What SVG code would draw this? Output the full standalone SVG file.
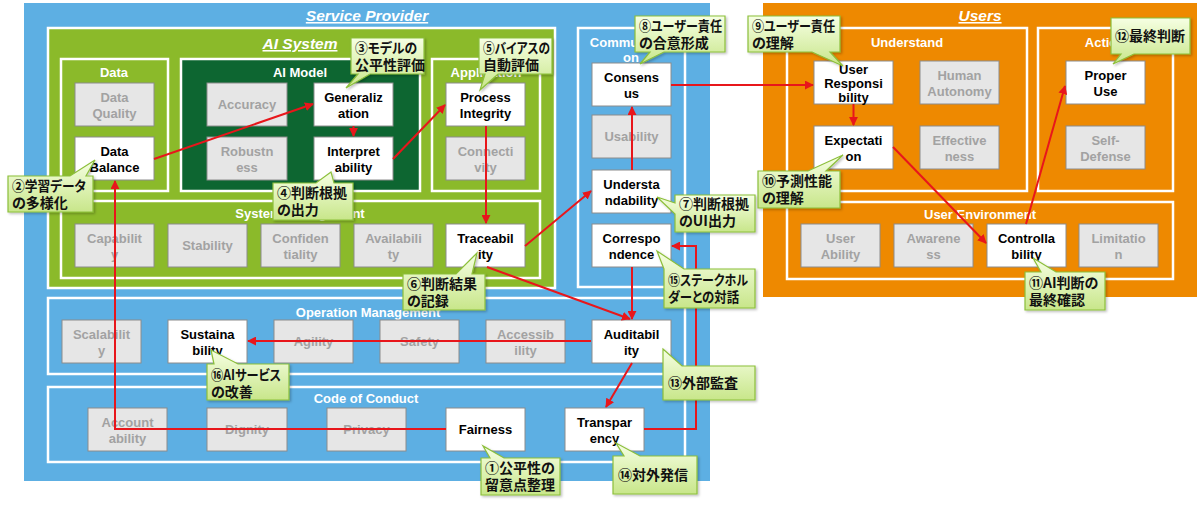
<svg xmlns="http://www.w3.org/2000/svg" width="1200" height="508" viewBox="0 0 1200 508">
<defs>
<style>
.gt{font-family:"Liberation Sans",Arial,sans-serif;font-weight:bold;font-size:13px;fill:#fff;text-anchor:middle}
.title{font-size:15.5px;font-style:italic;text-decoration:underline}
.grp{fill:none;stroke:#fff;stroke-width:2.5}
.node rect{stroke:#8C8C8C;stroke-width:1}
.node text{font-family:"Liberation Sans",Arial,sans-serif;font-weight:bold;font-size:13px;text-anchor:middle}
.ng rect{fill:#E6E6E6}
.ng text{fill:#A2A2A2}
.nw rect{fill:#fff}
.nw text{fill:#000}
.conn{fill:none;stroke:#E8161B;stroke-width:2;marker-end:url(#ah)}
.co path{fill:url(#cg);stroke:#8CBF3A;stroke-width:1.2;filter:url(#sh)}
.co text{font-family:"Noto Sans CJK JP",sans-serif;font-weight:bold;font-size:14px;fill:#111;font-feature-settings:"palt"}
</style>
<linearGradient id="cg" x1="0" y1="0" x2="0" y2="1">
<stop offset="0" stop-color="#F6FFE3"/>
<stop offset="1" stop-color="#C8E68A"/>
</linearGradient>
<marker id="ah" viewBox="0 0 10 10" refX="9" refY="5" markerWidth="9" markerHeight="9" markerUnits="userSpaceOnUse" orient="auto">
<path d="M0,0 L10,5 L0,10 z" fill="#E8161B"/>
</marker>
<filter id="sh" x="-10%" y="-10%" width="130%" height="130%">
<feDropShadow dx="1.5" dy="1.5" stdDeviation="1" flood-color="#000" flood-opacity="0.25"/>
</filter>
</defs>
<rect width="1200" height="508" fill="#fff"/>

<g id="containers">
<rect x="24" y="3" width="686" height="478" fill="#5DAFE3"/>
<rect x="48" y="28" width="507" height="260" fill="#8BBA2A" stroke="#fff" stroke-width="2.5"/>
<rect x="61" y="59" width="107" height="132" class="grp"/>
<rect x="181" y="59" width="239" height="132" fill="#0D6631" stroke="#fff" stroke-width="2.5"/>
<rect x="432" y="59" width="108" height="132" class="grp"/>
<rect x="61" y="201" width="479" height="77" class="grp"/>
<rect x="578" y="28" width="107" height="259" class="grp"/>
<rect x="48" y="298" width="637" height="76" class="grp"/>
<rect x="48" y="387" width="637" height="75" class="grp"/>
<rect x="763" y="3" width="434" height="294" fill="#EE8900"/>
<rect x="787" y="28" width="240" height="163" class="grp"/>
<rect x="1038" y="28" width="135" height="163" class="grp"/>
<rect x="787" y="202" width="386" height="77" class="grp"/>
</g>

<g id="labels">
<text class="gt title" x="367" y="21">Service Provider</text>
<text class="gt title" x="300" y="49">AI System</text>
<text class="gt title" x="980" y="21">Users</text>
<text class="gt" x="114" y="77">Data</text>
<text class="gt" x="300" y="77">AI Model</text>
<text class="gt" x="486" y="77">Application</text>
<text class="gt" x="300" y="218">System Management</text>
<text class="gt" x="631" y="47">Communicati</text>
<text class="gt" x="631" y="62">on</text>
<text class="gt" x="368" y="317">Operation Management</text>
<text class="gt" x="366" y="403">Code of Conduct</text>
<text class="gt" x="907" y="47">Understand</text>
<text class="gt" x="1105" y="47">Action</text>
<text class="gt" x="980" y="219">User Environment</text>
</g>

<g id="n-data-quality" class="node ng"><rect x="75" y="83" width="79" height="43"/><text x="114.5" y="102">Data<tspan x="114.5" dy="16">Quality</tspan></text></g>
<g id="n-data-balance" class="node nw"><rect x="75" y="137" width="79" height="43"/><text x="114.5" y="156">Data<tspan x="114.5" dy="16">Balance</tspan></text></g>
<g id="n-accuracy" class="node ng"><rect x="207" y="83" width="80" height="43"/><text x="247" y="109">Accuracy</text></g>
<g id="n-robustness" class="node ng"><rect x="207" y="137" width="80" height="43"/><text x="247" y="156">Robustn<tspan x="247" dy="16">ess</tspan></text></g>
<g id="n-generalization" class="node nw"><rect x="314" y="83" width="79" height="43"/><text x="353.5" y="102">Generaliz<tspan x="353.5" dy="16">ation</tspan></text></g>
<g id="n-interpretability" class="node nw"><rect x="314" y="137" width="79" height="43"/><text x="353.5" y="156">Interpret<tspan x="353.5" dy="16">ability</tspan></text></g>
<g id="n-process-integrity" class="node nw"><rect x="446" y="83" width="79" height="43"/><text x="485.5" y="102">Process<tspan x="485.5" dy="16">Integrity</tspan></text></g>
<g id="n-connectivity" class="node ng"><rect x="446" y="137" width="79" height="43"/><text x="485.5" y="156">Connecti<tspan x="485.5" dy="16">vity</tspan></text></g>
<g id="n-capability" class="node ng"><rect x="75" y="224" width="79" height="43"/><text x="114.5" y="243">Capabilit<tspan x="114.5" dy="16">y</tspan></text></g>
<g id="n-stability" class="node ng"><rect x="168" y="224" width="79" height="43"/><text x="207.5" y="250">Stability</text></g>
<g id="n-confidentiality" class="node ng"><rect x="261" y="224" width="79" height="43"/><text x="300.5" y="243">Confiden<tspan x="300.5" dy="16">tiality</tspan></text></g>
<g id="n-availability" class="node ng"><rect x="354" y="224" width="79" height="43"/><text x="393.5" y="243">Availabili<tspan x="393.5" dy="16">ty</tspan></text></g>
<g id="n-traceability" class="node nw"><rect x="446" y="224" width="79" height="43"/><text x="485.5" y="243">Traceabil<tspan x="485.5" dy="16">ity</tspan></text></g>
<g id="n-consensus" class="node nw"><rect x="592" y="63" width="79" height="43"/><text x="631.5" y="82">Consens<tspan x="631.5" dy="16">us</tspan></text></g>
<g id="n-usability" class="node ng"><rect x="592" y="115" width="79" height="43"/><text x="631.5" y="141">Usability</text></g>
<g id="n-understandability" class="node nw"><rect x="592" y="170" width="79" height="43"/><text x="631.5" y="189">Understa<tspan x="631.5" dy="16">ndability</tspan></text></g>
<g id="n-correspondence" class="node nw"><rect x="592" y="224" width="79" height="43"/><text x="631.5" y="243">Correspo<tspan x="631.5" dy="16">ndence</tspan></text></g>
<g id="n-scalability" class="node ng"><rect x="62" y="320" width="79" height="43"/><text x="101.5" y="339">Scalabilit<tspan x="101.5" dy="16">y</tspan></text></g>
<g id="n-sustainability" class="node nw"><rect x="168" y="320" width="79" height="43"/><text x="207.5" y="339">Sustaina<tspan x="207.5" dy="16">bility</tspan></text></g>
<g id="n-agility" class="node ng"><rect x="274" y="320" width="79" height="43"/><text x="313.5" y="346">Agility</text></g>
<g id="n-safety" class="node ng"><rect x="380" y="320" width="79" height="43"/><text x="419.5" y="346">Safety</text></g>
<g id="n-accessibility" class="node ng"><rect x="486" y="320" width="79" height="43"/><text x="525.5" y="339">Accessib<tspan x="525.5" dy="16">ility</tspan></text></g>
<g id="n-auditability" class="node nw"><rect x="592" y="320" width="79" height="43"/><text x="631.5" y="339">Auditabil<tspan x="631.5" dy="16">ity</tspan></text></g>
<g id="n-accountability" class="node ng"><rect x="88" y="408" width="79" height="43"/><text x="127.5" y="427">Account<tspan x="127.5" dy="16">ability</tspan></text></g>
<g id="n-dignity" class="node ng"><rect x="207" y="408" width="80" height="43"/><text x="247" y="434">Dignity</text></g>
<g id="n-privacy" class="node ng"><rect x="327" y="408" width="79" height="43"/><text x="366.5" y="434">Privacy</text></g>
<g id="n-fairness" class="node nw"><rect x="446" y="408" width="79" height="43"/><text x="485.5" y="434">Fairness</text></g>
<g id="n-transparency" class="node nw"><rect x="565" y="408" width="79" height="43"/><text x="604.5" y="427">Transpar<tspan x="604.5" dy="16">ency</tspan></text></g>
<g id="n-user-responsibility" class="node nw"><rect x="814" y="61" width="79" height="43"/><text x="853.5" y="74">User<tspan x="853.5" dy="14">Responsi</tspan><tspan x="853.5" dy="14">bility</tspan></text></g>
<g id="n-human-autonomy" class="node ng"><rect x="920" y="61" width="79" height="43"/><text x="959.5" y="80">Human<tspan x="959.5" dy="16">Autonomy</tspan></text></g>
<g id="n-expectation" class="node nw"><rect x="814" y="126" width="79" height="43"/><text x="853.5" y="145">Expectati<tspan x="853.5" dy="16">on</tspan></text></g>
<g id="n-effectiveness" class="node ng"><rect x="920" y="126" width="79" height="43"/><text x="959.5" y="145">Effective<tspan x="959.5" dy="16">ness</tspan></text></g>
<g id="n-proper-use" class="node nw"><rect x="1066" y="61" width="79" height="43"/><text x="1105.5" y="80">Proper<tspan x="1105.5" dy="16">Use</tspan></text></g>
<g id="n-self-defense" class="node ng"><rect x="1066" y="126" width="79" height="43"/><text x="1105.5" y="145">Self-<tspan x="1105.5" dy="16">Defense</tspan></text></g>
<g id="n-user-ability" class="node ng"><rect x="801" y="224" width="79" height="43"/><text x="840.5" y="243">User<tspan x="840.5" dy="16">Ability</tspan></text></g>
<g id="n-awareness" class="node ng"><rect x="894" y="224" width="79" height="43"/><text x="933.5" y="243">Awarene<tspan x="933.5" dy="16">ss</tspan></text></g>
<g id="n-controllability" class="node nw"><rect x="987" y="224" width="79" height="43"/><text x="1026.5" y="243">Controlla<tspan x="1026.5" dy="16">bility</tspan></text></g>
<g id="n-limitation" class="node ng"><rect x="1079" y="224" width="79" height="43"/><text x="1118.5" y="243">Limitatio<tspan x="1118.5" dy="16">n</tspan></text></g>

<g id="connectors">
<polyline class="conn" points="446,429 115,429 115,181"/>
<line class="conn" x1="154" y1="159" x2="313" y2="104"/>
<line class="conn" x1="353.5" y1="126" x2="353.5" y2="136"/>
<line class="conn" x1="393" y1="159" x2="445" y2="105"/>
<line class="conn" x1="486" y1="126" x2="486" y2="223"/>
<line class="conn" x1="525" y1="246" x2="591" y2="191"/>
<line class="conn" x1="487" y1="267" x2="630" y2="319"/>
<line class="conn" x1="632" y1="267" x2="632" y2="319"/>
<line class="conn" x1="632" y1="170" x2="632" y2="107"/>
<line class="conn" x1="671" y1="85" x2="813" y2="85"/>
<line class="conn" x1="853.5" y1="104" x2="853.5" y2="125"/>
<line class="conn" x1="893" y1="147" x2="986" y2="243"/>
<line class="conn" x1="1026" y1="224" x2="1065" y2="86"/>
<line class="conn" x1="632" y1="363" x2="606" y2="407"/>
<line class="conn" x1="591" y1="341" x2="248" y2="341"/>
<polyline class="conn" points="644,429 696,429 696,246 672,246"/>
</g>

<g id="c1" class="co"><path d="M481,458 H490 L483,446 L504,458 H560 V495 H481 Z"/><text x="485" y="473">①公平性の</text><text x="485" y="490">留意点整理</text></g>
<g id="c2" class="co"><path d="M8,176 H70 L95,160 L86,176 H93 V212 H8 Z"/><text x="12" y="191" textLength="74" lengthAdjust="spacingAndGlyphs">②学習データ</text><text x="12" y="208">の多様化</text></g>
<g id="c3" class="co"><path d="M351,38 H424 V74 H370 L346,88 L358,74 H351 Z"/><text x="355" y="53" textLength="62" lengthAdjust="spacingAndGlyphs">③モデルの</text><text x="355" y="70">公平性評価</text></g>
<g id="c4" class="co"><path d="M273,183 H316 L331,172 L334,183 H353 V220 H273 Z"/><text x="277" y="198">④判断根拠</text><text x="277" y="215">の出力</text></g>
<g id="c5" class="co"><path d="M479,38 H552 V74 H498 L480,90 L485,74 H479 Z"/><text x="483" y="53" textLength="67" lengthAdjust="spacingAndGlyphs">⑤バイアスの</text><text x="483" y="70">自動評価</text></g>
<g id="c6" class="co"><path d="M403,274 H456 L477,253 L472,274 H485 V310 H403 Z"/><text x="407" y="289">⑥判断結果</text><text x="407" y="306">の記録</text></g>
<g id="c7" class="co"><path d="M675,195 H755 V232 H675 V214 L657,197 L675,203 Z"/><text x="679" y="209">⑦判断根拠</text><text x="679" y="226">のUI出力</text></g>
<g id="c8" class="co"><path d="M635,16 H725 V52 H664 L640,64 L650,52 H635 Z"/><text x="639" y="31" textLength="83" lengthAdjust="spacingAndGlyphs">⑧ユーザー責任</text><text x="639" y="48">の合意形成</text></g>
<g id="c9" class="co"><path d="M748,16 H840 V52 H830 L843,66 L812,52 H748 Z"/><text x="752" y="31" textLength="83" lengthAdjust="spacingAndGlyphs">⑨ユーザー責任</text><text x="752" y="48">の理解</text></g>
<g id="c10" class="co"><path d="M758,171 H808 L843,155 L826,171 H840 V208 H758 Z"/><text x="762" y="186">⑩予測性能</text><text x="762" y="203">の理解</text></g>
<g id="c11" class="co"><path d="M1025,272 H1041 L1033,258 L1056,272 H1105 V310 H1025 Z"/><text x="1029" y="288">⑪AI判断の</text><text x="1029" y="305">最終確認</text></g>
<g id="c12" class="co"><path d="M1111,18 H1190 V54 H1134 L1113,64 L1121,54 H1111 Z"/><text x="1115" y="41">⑫最終判断</text></g>
<g id="c13" class="co"><path d="M663,349 L682,366 H755 V400 H663 Z"/><text x="668" y="388">⑬外部監査</text></g>
<g id="c14" class="co"><path d="M613,456 H624 L616,443 L640,456 H697 V494 H613 Z"/><text x="618" y="480">⑭対外発信</text></g>
<g id="c15" class="co"><path d="M664,269 L657,251 L684,269 H755 V308 H664 Z"/><text x="668" y="285" textLength="80" lengthAdjust="spacingAndGlyphs">⑮ステークホル</text><text x="668" y="302" textLength="71" lengthAdjust="spacingAndGlyphs">ダーとの対話</text></g>
<g id="c16" class="co"><path d="M207,364 H214 L211,350 L238,364 H289 V400 H207 Z"/><text x="211" y="380" textLength="70" lengthAdjust="spacingAndGlyphs">⑯AIサービス</text><text x="211" y="397">の改善</text></g>
</svg>
